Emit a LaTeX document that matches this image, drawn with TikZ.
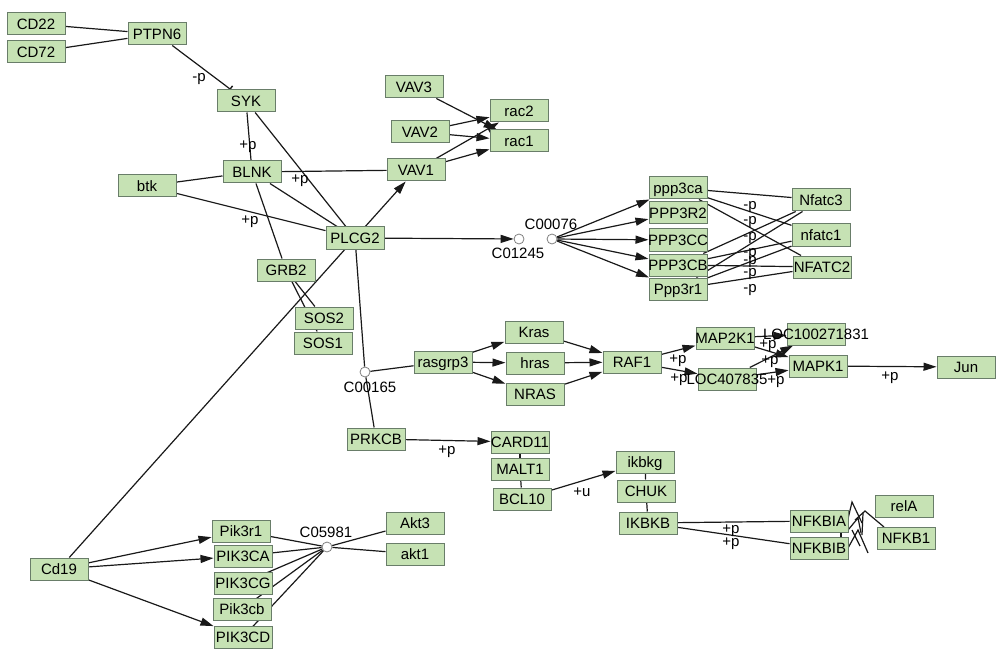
\documentclass[tikz,border=0pt]{standalone}
\usepackage{fontspec}
\setmainfont{Liberation Sans}
\usetikzlibrary{arrows.meta,backgrounds}
\definecolor{boxfill}{RGB}{198,226,180}
\definecolor{boxline}{RGB}{105,125,105}
\definecolor{edgec}{RGB}{25,25,25}
\newcommand\bt[1]{\makebox[0pt]{#1}}
\begin{document}
\begin{tikzpicture}[x=1pt,y=-1pt,
 gn/.style={draw=boxline, fill=boxfill, line width=1pt, minimum width=58pt, minimum height=22pt, inner sep=0pt, text height=12pt, text depth=1.5pt, font=\fontsize{15}{16}\selectfont},
 cn/.style={circle, draw=gray, fill=white, minimum size=10pt, inner sep=0pt, line width=0.8pt},
 lbl/.style={inner sep=0pt, font=\fontsize{15}{16}\selectfont},
 ln/.style={draw=edgec, line width=1.2pt},
 ar/.style={ln, -{Triangle[length=13pt,width=8pt]}},
 inh/.style={ln, -{Bar[width=8pt,line width=1.4pt]}}]
\useasboundingbox (0,0) rectangle (1000,652);
% nodes
\node[gn] (CD22) at (36,24) {\bt{CD22}};
\node[gn] (CD72) at (36,52) {\bt{CD72}};
\node[gn] (PTPN6) at (157,34) {\bt{PTPN6}};
\node[gn] (SYK) at (246,101) {\bt{SYK}};
\node[gn] (BLNK) at (252,172) {\bt{BLNK}};
\node[gn] (btk) at (147,186) {\bt{btk}};
\node[gn] (PLCG2) at (355,238) {\bt{PLCG2}};
\node[gn] (GRB2) at (286,270) {\bt{GRB2}};
\node[gn] (SOS2) at (324,318) {\bt{SOS2}};
\node[gn] (SOS1) at (323,343) {\bt{SOS1}};
\node[gn] (VAV3) at (414,87) {\bt{VAV3}};
\node[gn] (VAV2) at (420,132) {\bt{VAV2}};
\node[gn] (VAV1) at (416,170) {\bt{VAV1}};
\node[gn] (rac2) at (519,111) {\bt{rac2}};
\node[gn] (rac1) at (519,141) {\bt{rac1}};
\node[cn] (C01245) at (519,239) {};
\node[cn] (C00076) at (552,239) {};
\node[lbl] (lC01245) at (518,253) {C01245};
\node[lbl] (lC00076) at (551,224) {C00076};
\node[gn] (ppp3ca) at (678,188) {\bt{ppp3ca}};
\node[gn] (PPP3R2) at (678,213) {\bt{PPP3R2}};
\node[gn] (PPP3CC) at (678,240) {\bt{PPP3CC}};
\node[gn] (PPP3CB) at (678,265) {\bt{PPP3CB}};
\node[gn] (Ppp3r1) at (678,289) {\bt{Ppp3r1}};
\node[gn] (Nfatc3) at (821,200) {\bt{Nfatc3}};
\node[gn] (nfatc1) at (821,235) {\bt{nfatc1}};
\node[gn] (NFATC2) at (822,267) {\bt{NFATC2}};
\node[gn] (rasgrp3) at (443,362) {\bt{rasgrp3}};
\node[cn] (C00165) at (365,372) {};
\node[lbl] (lC00165) at (370,387) {C00165};
\node[gn] (Kras) at (534,332) {\bt{Kras}};
\node[gn] (hras) at (535,363) {\bt{hras}};
\node[gn] (NRAS) at (535,394) {\bt{NRAS}};
\node[gn] (RAF1) at (632,362) {\bt{RAF1}};
\node[gn] (MAP2K1) at (725,338) {\bt{MAP2K1}};
\node[gn] (LOCa) at (816,334) {\bt{LOC100271831}};
\node[gn] (LOCb) at (727,379) {\bt{LOC407835}};
\node[gn] (MAPK1) at (818,366) {\bt{MAPK1}};
\node[gn] (Jun) at (966,367) {\bt{Jun}};
\node[gn] (PRKCB) at (376,439) {\bt{PRKCB}};
\node[gn] (CARD11) at (520,442) {\bt{CARD11}};
\node[gn] (MALT1) at (520,469) {\bt{MALT1}};
\node[gn] (BCL10) at (522,499) {\bt{BCL10}};
\node[gn] (ikbkg) at (645,462) {\bt{ikbkg}};
\node[gn] (CHUK) at (646,491) {\bt{CHUK}};
\node[gn] (IKBKB) at (648,523) {\bt{IKBKB}};
\node[gn] (NFKBIA) at (819,521) {\bt{NFKBIA}};
\node[gn] (NFKBIB) at (819,548) {\bt{NFKBIB}};
\node[gn] (relA) at (904,506) {\bt{relA}};
\node[gn] (NFKB1) at (906,538) {\bt{NFKB1}};
\node[gn] (Cd19) at (59,569) {\bt{Cd19}};
\node[gn] (Pik3r1) at (241,531) {\bt{Pik3r1}};
\node[gn] (PIK3CA) at (243,556) {\bt{PIK3CA}};
\node[gn] (PIK3CG) at (243,583) {\bt{PIK3CG}};
\node[gn] (Pik3cb) at (242,609) {\bt{Pik3cb}};
\node[gn] (PIK3CD) at (243,637) {\bt{PIK3CD}};
\node[cn] (C05981) at (327,547) {};
\node[lbl] (lC05981) at (326,532) {C05981};
\node[gn] (Akt3) at (415,523) {\bt{Akt3}};
\node[gn] (akt1) at (415,554) {\bt{akt1}};
% edge labels
\node[lbl] at (199,79) {-p};
\node[lbl] at (248,147) {+p};
\node[lbl] at (300,181) {+p};
\node[lbl] at (250,222) {+p};
\foreach \yy in {207,222,238,254,262,274,290} {\node[lbl] at (750,\yy) {-p};}
\node[lbl] at (678,361) {+p};
\node[lbl] at (679,380) {+p};
\node[lbl] at (768,346) {+p};
\node[lbl] at (770,362) {+p};
\node[lbl] at (776,382) {+p};
\node[lbl] at (890,378) {+p};
\node[lbl] at (447,452) {+p};
\node[lbl] at (582,492) {+u};
\node[lbl] at (731,531) {+p};
\node[lbl] at (731,544) {+p};
% edges
\begin{pgfonlayer}{background}
\draw[ln] (CD22) -- (PTPN6);
\draw[ln] (CD72) -- (PTPN6);
\draw[inh] (PTPN6) -- (SYK);
\draw[ln] (SYK) -- (BLNK);
\draw[ln] (SYK) -- (PLCG2);
\draw[ln] (BLNK) -- (VAV1);
\draw[ln] (BLNK) -- (PLCG2);
\draw[ln] (BLNK) -- (GRB2);
\draw[ln] (btk) -- (BLNK);
\draw[ln] (btk) -- (PLCG2);
\draw[ln] (GRB2) -- (SOS2);
\draw[ln] (GRB2) -- (SOS1);
\draw[ar] (PLCG2) -- (VAV1);
\draw[ar] (PLCG2) -- (C01245);
\draw[ln] (PLCG2) -- (C00165);
\draw[ln] (Cd19) -- (PLCG2);
\draw[ar] (VAV3) -- (rac1);
\draw[ar] (VAV2) -- (rac2);
\draw[ar] (VAV2) -- (rac1);
\draw[ar] (VAV1) -- (rac2);
\draw[ar] (VAV1) -- (rac1);
\foreach \t in {ppp3ca,PPP3R2,PPP3CC,PPP3CB,Ppp3r1} {\draw[ar] (C00076) -- (\t);}
\foreach \s in {ppp3ca,PPP3CB,Ppp3r1} {\foreach \t in {Nfatc3,nfatc1,NFATC2} {\draw[ln] (\s) -- (\t);}}
\draw[ln] (C00165) -- (rasgrp3);
\draw[ln] (C00165) -- (PRKCB);
\draw[ar] (rasgrp3) -- (Kras);
\draw[ar] (rasgrp3) -- (hras);
\draw[ar] (rasgrp3) -- (NRAS);
\draw[ar] (Kras) -- (RAF1);
\draw[ar] (hras) -- (RAF1);
\draw[ar] (NRAS) -- (RAF1);
\draw[ar] (RAF1) -- (MAP2K1);
\draw[ar] (RAF1) -- (LOCb);
\draw[ar] (MAP2K1) -- (LOCa);
\draw[ar] (MAP2K1) -- (MAPK1);
\draw[ar] (LOCb) -- (LOCa);
\draw[ar] (LOCb) -- (MAPK1);
\draw[ar] (MAPK1) -- (Jun);
\draw[ar] (PRKCB) -- (CARD11);
\draw[ln] (CARD11) -- (MALT1);
\draw[ln] (MALT1) -- (BCL10);
\draw[ar] (BCL10) -- (ikbkg);
\draw[ln] (ikbkg) -- (CHUK);
\draw[ln] (CHUK) -- (IKBKB);
\draw[ln] (IKBKB) -- (NFKBIA);
\draw[ln] (IKBKB) -- (NFKBIB);
\draw[ln] ([xshift=22pt]NFKBIA.south) -- ([xshift=22pt]NFKBIB.north);
\draw[ln] (847,523) -- (852,502) -- (862,523);
\draw[ln] (855,520) -- (865,511) -- (884,527);
\draw[ln] (863,513) -- (862,535);
\draw[ln] (848,530) -- (858,518) -- (861,533);
\draw[ln] (848,548) -- (858,530) -- (868,553);
\draw[ln] (852,530) -- (860,546);
\draw[ar] (Cd19) -- (Pik3r1);
\draw[ar] (Cd19) -- (PIK3CA);
\draw[ar] (Cd19) -- (PIK3CD);
\foreach \s in {Pik3r1,PIK3CA,PIK3CG,Pik3cb,PIK3CD} {\draw[ln] (\s.center) -- (C05981);}
\draw[ln] (C05981) -- (Akt3);
\draw[ln] (C05981) -- (akt1);
\end{pgfonlayer}
\end{tikzpicture}
\end{document}
